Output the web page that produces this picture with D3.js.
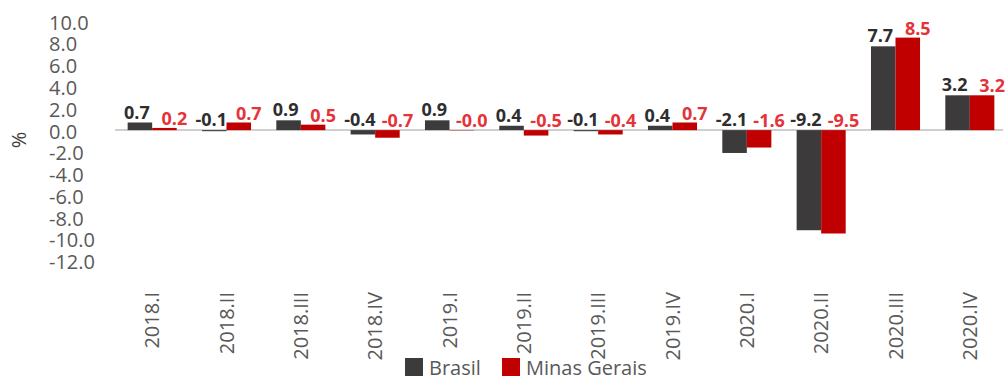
<!DOCTYPE html>
<html>
<head>
<meta charset="utf-8">
<script src="https://cdn.jsdelivr.net/npm/d3@7"></script>
<style>
  html, body { margin: 0; padding: 0; background: #fff; }
  svg { display: block; font-family: "Open Sans", "Noto Sans", sans-serif; }
</style>
</head>
<body>
<svg id="chart" width="1006" height="379"></svg>
<script>
// Quarterly GDP variation (%), Brasil vs Minas Gerais
const categories = ["2018.I", "2018.II", "2018.III", "2018.IV", "2019.I", "2019.II",
                    "2019.III", "2019.IV", "2020.I", "2020.II", "2020.III", "2020.IV"];
const seriesNames = ["Brasil", "Minas Gerais"];
const brasil = [0.7, -0.1, 0.9, -0.4, 0.9, 0.4, -0.1, 0.4, -2.1, -9.2, 7.7, 3.2];
const minasGerais = [0.2, 0.7, 0.5, -0.7, -0.03, -0.5, -0.4, 0.7, -1.6, -9.5, 8.5, 3.2];
const yTicks = [10, 8, 6, 4, 2, 0, -2, -4, -6, -8, -10, -12];
const yLabel = "%";

const colors = { "Brasil": "#3c3a3b", "Minas Gerais": "#c00000" };
const labelColors = { "Brasil": "#2e2e2e", "Minas Gerais": "#e5333a" };
const labelShift = { "Brasil": -3, "Minas Gerais": 10 };

const svg = d3.select("#chart");

const x0 = d3.scaleBand().domain(categories).range([115, 1007])
  .paddingInner(0.34).paddingOuter(0.17);
const x1 = d3.scaleBand().domain(seriesNames).range([0, x0.bandwidth()]);
const y = d3.scaleLinear().domain([-12, 10]).range([260.7, 21.3]);

const rows = categories.map((c, i) => ({
  cat: c,
  vals: [
    { key: "Brasil", v: brasil[i] },
    { key: "Minas Gerais", v: minasGerais[i] }
  ]
}));

// y axis: labels only, left aligned
const yAxis = svg.append("g")
  .attr("transform", "translate(49,1.5)")
  .call(d3.axisLeft(y).tickValues(yTicks).tickSize(0).tickFormat(d => d.toFixed(1)));
yAxis.select(".domain").remove();
yAxis.selectAll("text")
  .attr("x", 0)
  .attr("text-anchor", "start")
  .attr("fill", "#595959")
  .style("font-size", "20px")
  .style("font-family", "'Open Sans', sans-serif");

svg.append("text")
  .attr("transform", "translate(26,140) rotate(-90)")
  .attr("text-anchor", "middle")
  .attr("fill", "#404040")
  .style("font-size", "20px")
  .text(yLabel);

// zero line
svg.append("line")
  .attr("x1", x0.range()[0]).attr("x2", 1003)
  .attr("y1", y(0)).attr("y2", y(0))
  .attr("stroke", "#bfbfbf").attr("stroke-width", 1.5);

// bars
const groups = svg.append("g").selectAll("g").data(rows).join("g")
  .attr("transform", d => `translate(${x0(d.cat)},0)`);

groups.selectAll("rect").data(d => d.vals).join("rect")
  .attr("x", d => x1(d.key))
  .attr("width", x1.bandwidth())
  .attr("y", d => y(Math.max(0, d.v)))
  .attr("height", d => Math.abs(y(d.v) - y(0)))
  .attr("fill", d => colors[d.key]);

// value labels
groups.selectAll("text.val").data(d => d.vals).join("text")
  .attr("class", "val")
  .attr("x", d => x1(d.key) + x1.bandwidth() / 2 + labelShift[d.key])
  .attr("y", d => y(Math.max(0, d.v)) - (d.key === "Brasil" ? 4 : 3))
  .attr("text-anchor", "middle")
  .attr("fill", d => labelColors[d.key])
  .style("font-size", "18px")
  .style("font-weight", "bold")
  .text(d => d.v.toFixed(1));

// x axis: rotated category labels
const xAxis = svg.append("g")
  .attr("transform", "translate(0,292)")
  .call(d3.axisBottom(x0).tickSize(0));
xAxis.select(".domain").remove();
xAxis.selectAll("text")
  .attr("transform", "rotate(-90)")
  .attr("x", 0)
  .attr("y", 0)
  .attr("dy", "0.35em")
  .attr("text-anchor", "end")
  .attr("fill", "#595959")
  .style("font-size", "20px")
  .style("font-family", "'Open Sans', sans-serif");

// legend
const legendX = [405, 502];
const legend = svg.append("g").selectAll("g").data(seriesNames).join("g")
  .attr("transform", (d, i) => `translate(${legendX[i]},358)`);
legend.append("rect")
  .attr("width", 18).attr("height", 18)
  .attr("fill", d => colors[d]);
legend.append("text")
  .attr("x", 24).attr("y", 17)
  .attr("fill", "#595959")
  .style("font-size", "20px")
  .text(d => d);
</script>
</body>
</html>
